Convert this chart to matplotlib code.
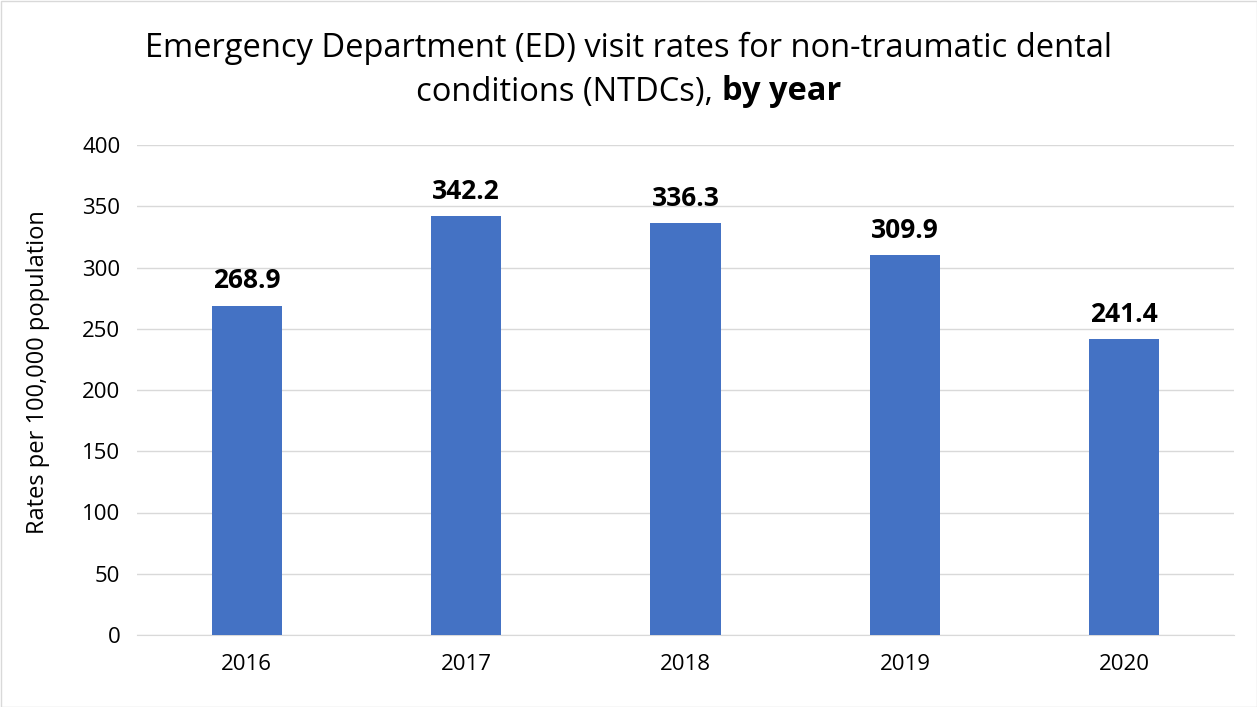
import matplotlib
matplotlib.use("Agg")
import matplotlib.pyplot as plt
from matplotlib.patches import Rectangle
from matplotlib.offsetbox import TextArea, HPacker, AnnotationBbox

years = ["2016", "2017", "2018", "2019", "2020"]
rates = [268.9, 342.2, 336.3, 309.9, 241.4]
yticks = [0, 50, 100, 150, 200, 250, 300, 350, 400]

plt.rcParams['font.family'] = ['Open Sans', 'DejaVu Sans']

W, H = 1257, 707
fig = plt.figure(figsize=(W/100, H/100), dpi=100)
ax = fig.add_axes([137/W, 1-635/H, (1234-137)/W, (635-145)/H])

x = list(range(len(years)))
ax.bar(x, rates, width=0.32, color="#4472C4", zorder=3)
for xi, v in zip(x, rates):
    ax.annotate(f"{v:.1f}", (xi, v), xytext=(0, 8), textcoords="offset points",
                ha="center", va="bottom", fontsize=19, fontweight="bold", color="black")

ax.set_xlim(-0.5, len(years)-0.5)
ax.set_ylim(0, 400)
ax.set_yticks(yticks)
ax.set_xticks(x)
ax.set_xticklabels(years)
ax.tick_params(axis='both', length=0, labelsize=16, colors="#000000")
ax.tick_params(axis='x', pad=14)
ax.tick_params(axis='y', pad=12)
ax.yaxis.grid(True, color="#D9D9D9", linewidth=1, zorder=0)
for s in ["top", "right", "left"]:
    ax.spines[s].set_visible(False)
ax.spines["bottom"].set_color("#D9D9D9")
ax.set_ylabel("Rates per 100,000 population", fontsize=17)
ax.yaxis.set_label_coords((50 - 137)/(1234-137), (635-372)/490)

fig.text(0.5, 1-48/H, "Emergency Department (ED) visit rates for non-traumatic dental",
         ha="center", va="center", fontsize=23.5)
t1 = TextArea("conditions (NTDCs), ", textprops=dict(fontsize=23.5))
t2 = TextArea("by year", textprops=dict(fontsize=23.5, fontweight="bold"))
box = HPacker(children=[t1, t2], align="baseline", pad=0, sep=0)
ab = AnnotationBbox(box, (0.5, 1-92/H), xycoords="figure fraction", frameon=False,
                    box_alignment=(0.5, 0.5), pad=0)
fig.add_artist(ab)

fig.patches.append(Rectangle((0.5/W, 0.5/H), 1-1/W, 1-1/H, transform=fig.transFigure,
                             fill=False, edgecolor="#D9D9D9", linewidth=1))

fig.savefig("out.png", dpi=100)
